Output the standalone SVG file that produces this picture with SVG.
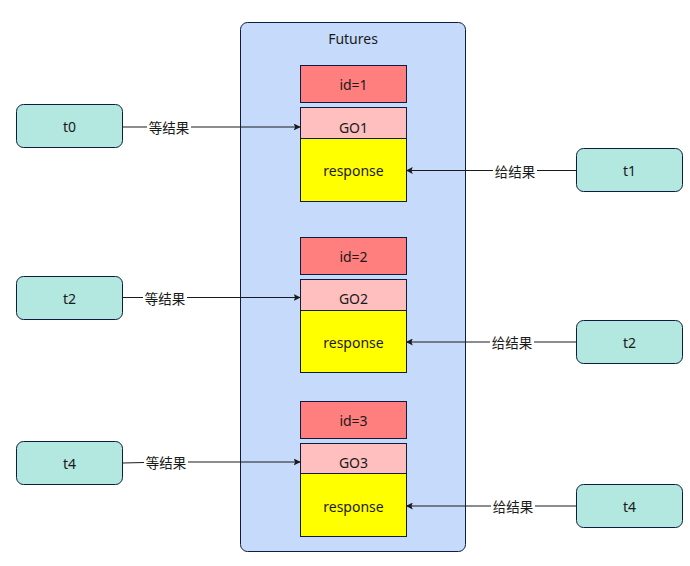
<svg xmlns="http://www.w3.org/2000/svg" width="690" height="566" viewBox="0 0 690 566">
<defs>
<style>
.t{font-family:"Noto Sans","Noto Sans CJK SC",sans-serif;font-size:14px;fill:#1a1a1a;text-anchor:middle;dominant-baseline:central}
.lbl{font-family:"Noto Sans CJK SC","Noto Sans",sans-serif;font-size:13.5px;fill:#1a1a1a;text-anchor:middle;dominant-baseline:central}
.node{fill:#b3e8e0;stroke:#0f1b3f;stroke-width:1}
.id{fill:#ff7f7f;stroke:#0f1b3f;stroke-width:1}
.go{fill:#ffbfbf;stroke:#0f1b3f;stroke-width:1}
.resp{fill:#ffff00;stroke:#0f1b3f;stroke-width:1}
.edge{stroke:#1a1a1a;stroke-width:1;fill:none;marker-end:url(#arr)}
.bg{fill:#ffffff}
</style>
<marker id="arr" viewBox="0 0 10 10" refX="9" refY="5" markerWidth="7" markerHeight="7" markerUnits="userSpaceOnUse" orient="auto">
<path d="M0,0 L10,5 L0,10 L2,5 Z" fill="#1a1a1a"/>
</marker>
</defs>
<rect width="690" height="566" fill="#ffffff"/>
<g id="futures">
<rect x="240.5" y="22.5" width="225" height="529" rx="7" fill="#c6dbfc" stroke="#0f1b3f"/>
<text class="t" x="353" y="38">Futures</text>
</g>
<g id="id1"><rect class="id" x="300.5" y="65.5" width="106" height="37"/><text class="t" x="353.5" y="84">id=1</text></g>
<g id="go1"><rect class="go" x="300.5" y="107.5" width="106" height="31"/><text class="t" x="353.5" y="127">GO1</text></g>
<g id="resp1"><rect class="resp" x="300.5" y="138.5" width="106" height="63"/><text class="t" x="353.5" y="170">response</text></g>
<g id="id2"><rect class="id" x="300.5" y="237.5" width="106" height="37"/><text class="t" x="353.5" y="256">id=2</text></g>
<g id="go2"><rect class="go" x="300.5" y="279.5" width="106" height="31"/><text class="t" x="353.5" y="298">GO2</text></g>
<g id="resp2"><rect class="resp" x="300.5" y="310.5" width="106" height="62"/><text class="t" x="353.5" y="342">response</text></g>
<g id="id3"><rect class="id" x="300.5" y="401.5" width="106" height="37"/><text class="t" x="353.5" y="420">id=3</text></g>
<g id="go3"><rect class="go" x="300.5" y="443.5" width="106" height="30"/><text class="t" x="353.5" y="462">GO3</text></g>
<g id="resp3"><rect class="resp" x="300.5" y="473.5" width="106" height="63"/><text class="t" x="353.5" y="506">response</text></g>
<g id="lt0"><rect class="node" x="16.5" y="104.5" width="106" height="43" rx="7"/><text class="t" x="69.5" y="126">t0</text></g>
<g id="lt2"><rect class="node" x="16.5" y="276.5" width="106" height="43" rx="7"/><text class="t" x="69.5" y="298">t2</text></g>
<g id="lt4"><rect class="node" x="16.5" y="441.5" width="106" height="43" rx="7"/><text class="t" x="69.5" y="463">t4</text></g>
<g id="rt1"><rect class="node" x="576.5" y="148.5" width="106" height="43" rx="7"/><text class="t" x="629.5" y="170">t1</text></g>
<g id="rt2"><rect class="node" x="576.5" y="320.5" width="106" height="43" rx="7"/><text class="t" x="629.5" y="342">t2</text></g>
<g id="rt4"><rect class="node" x="576.5" y="484.5" width="106" height="43" rx="7"/><text class="t" x="629.5" y="506">t4</text></g>
<g id="connectors">
<path class="edge" d="M122.5,127 L300,127"/>
<rect class="bg" x="147" y="119" width="44" height="16"/>
<text class="lbl" x="169" y="127">等结果</text>
<path class="edge" d="M576.5,170.5 L406.5,170.5"/>
<rect class="bg" x="493" y="162.5" width="44" height="16"/>
<text class="lbl" x="515" y="170.5">给结果</text>
<path class="edge" d="M122.5,297.5 L300,297.5"/>
<rect class="bg" x="143" y="289.5" width="44" height="16"/>
<text class="lbl" x="165" y="297.5">等结果</text>
<path class="edge" d="M576.5,342 L406.5,342"/>
<rect class="bg" x="490" y="334" width="44" height="16"/>
<text class="lbl" x="512" y="342">给结果</text>
<path class="edge" d="M122.5,463 L166,462 L300,462"/>
<rect class="bg" x="144" y="454" width="44" height="16"/>
<text class="lbl" x="166" y="462">等结果</text>
<path class="edge" d="M576.5,506 L406.5,506"/>
<rect class="bg" x="491" y="498" width="44" height="16"/>
<text class="lbl" x="513" y="506">给结果</text>
</g>
</svg>
